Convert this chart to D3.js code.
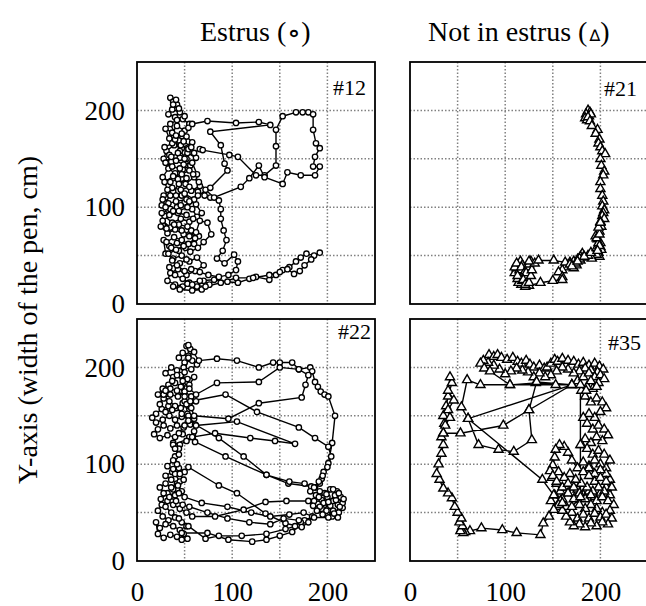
<!DOCTYPE html>
<html>
<head>
<meta charset="utf-8">
<script src="https://cdn.jsdelivr.net/npm/d3@7"></script>
<style>
body { margin: 0; background: #fff; }
svg { display: block; font-family: "Liberation Serif", "Times New Roman", serif; }
</style>
</head>
<body>
<svg width="646" height="606"></svg>
<script>
// axis ticks and grid positions (cm)
var ticks = [0, 100, 200];
var gridVals = [50, 100, 150, 200];

// tracked positions [x, y] in cm
var pig12 = [
[35,213],[38,209],[42,206],[37,201],[45,198],[40,193],[33,196],[48,191],[55,186],[50,179],[42,184],[37,177],[30,181],[34,171],[44,169],[52,173],[58,167],[47,161],[39,164],[31,158],[28,150],[36,147],[45,151],[53,156],[62,151],[56,143],[48,139],[40,135],[33,140],[27,131],[35,126],[43,129],[51,124],[60,131],[66,122],[57,117],[47,112],[38,116],[30,110],[26,102],[33,97],[42,100],[50,105],[58,98],[63,90],[55,85],[46,88],[37,84],[29,91],[25,80],[32,73],[40,77],[49,72],[57,76],[65,70],[60,62],[51,58],[42,63],[34,60],[28,66],[30,52],[38,47],[47,50],[55,44],[63,48],[70,40],[61,34],[52,30],[43,36],[35,32],[32,24],[40,20],[48,18],[55,22],[63,18],[70,24],[76,20],[68,15],[58,14],[45,15],[38,18],
[53,21],[66,24],[81,25],[95,23],[106,22],[118,26],[125,28],[139,25],[146,30],[153,35],[160,38],[167,44],[172,48],[178,52],[186,50],[192,53],[183,46],[176,40],[171,34],[165,31],[158,36],[150,33],[139,30],[122,27],[104,27],[88,22],[72,18],[58,20],
[48,26],[40,30],[34,38],[45,42],[52,46],[44,55],[36,58],[31,64],[39,69],[47,66],[54,62],[61,68],[53,80],[44,82],[35,79],[27,86],[34,92],[43,94],[52,92],[59,88],[68,94],[62,103],[52,108],[41,106],[33,104],[28,112],[37,120],[46,118],[55,121],[64,116],[71,112],
[77,110],[86,107],[88,98],[88,88],[91,76],[94,66],[90,55],[84,47],[92,42],[102,51],[106,44],[104,35],[96,30],[86,28],[75,30],[66,33],[57,36],
[50,34],[42,40],[37,45],[33,52],[41,56],[49,60],[56,54],[64,58],[70,64],[78,72],[74,84],[66,86],[62,74],[55,70],[47,76],[39,82],[31,78],[26,94],[35,98],[44,96],[53,100],[60,108],[50,114],[41,112],[32,118],[29,126],[38,132],[47,134],[55,138],[63,134],[58,146],[49,144],[41,148],[34,154],[29,162],[37,166],[46,164],[54,160],[60,156],[66,160],
[69,159],[97,154],[106,152],[125,133],[134,133],[146,143],[146,163],[146,180],[153,194],[167,198],[174,198],[180,198],[185,196],[185,180],[188,166],[192,161],[187,152],[185,142],[192,142],[187,133],[172,133],[158,136],[153,124],[134,131],[128,143],[118,130],[109,121],[81,110],
[72,118],[65,126],[59,134],[52,150],[45,158],[40,170],[47,176],[54,182],[58,186],
[74,189],[104,187],[128,188],[140,185],[77,178],[88,164],[92,145],[95,138],[77,120],[64,112],
[55,106],[46,102],[38,96],[30,100],[27,108],[35,112],[44,124],[52,130],[45,140],[37,142],[30,146],[36,152],[43,156],[50,150],[57,162],[49,168],[41,174],[35,186],[42,190],[50,194],[44,202],[38,206],[41,211]
];

var pig21 = [
[187,200],[189,198],[185,196],[188,194],[184,192],[186,190],[190,196],[187,193],[189,189],[191,184],[197,180],[195,176],[199,170],[198,166],[200,162],[202,158],[205,155],[200,150],[201,143],[204,137],[203,133],[200,126],[200,119],[202,112],[203,106],[202,101],[204,97],[203,94],[202,91],[204,88],[200,85],[201,80],[199,75],[195,70],[197,67],[200,63],[198,61],[200,59],[201,56],[198,53],[199,49],[196,51],[191,47],[187,50],[181,52],[179,49],[176,46],[172,44],[168,43],[165,40],[163,38],[160,35],[156,33],[160,28],[160,25],[150,24],[137,22],[125,19],[121,18],[117,20],[114,22],[113,26],[110,32],[112,37],[116,44],[118,40],[115,35],[119,30],[122,26],[118,24],[113,29],[110,38],[112,42],[117,38],[121,34],[124,38],[127,44],[125,41],[122,32],[119,25],[121,20],[125,22],[127,29],[128,35],[131,42],[125,44],[135,45],[151,45],[163,43],[168,41],[172,37],[175,40],[179,45],[182,48],[178,47],[174,42],[170,39],[176,44],[183,49],[190,53],[196,58],[198,63],[196,68],[199,72],[198,79],[200,84],[199,60],[197,55]
];

var pig22 = [
[52,222],[56,219],[60,216],[54,212],[48,215],[44,210],[50,205],[58,207],[63,203],[57,198],[49,200],[42,197],[36,200],[30,194],[38,190],[46,192],[53,188],[60,190],[55,182],[47,180],[40,184],[33,182],[27,178],[22,172],[28,168],[35,172],[43,170],[50,175],[57,170],[62,165],[55,160],[48,163],[41,158],[33,160],[26,157],[20,152],[16,148],[20,143],[27,146],[34,150],[40,146],[47,149],[53,152],[60,147],[56,141],[49,138],[42,140],[35,137],[28,140],[22,136],[18,131],[24,127],[32,130],[40,128],[48,131],[55,128],[60,134],[52,124],[45,120],[38,122],
[44,132],[50,140],[54,150],[50,165],[46,180],[50,195],[54,210],[54,223],[65,207],[84,209],[105,207],[128,200],[143,205],[150,205],[163,205],[170,198],[182,200],[184,196],[187,185],[190,180],[193,175],[197,172],[201,170],[208,150],[205,122],[201,101],[196,92],[194,85],[192,80],[183,77],[159,80],[136,89],[112,108],[86,127],[61,141],
[54,145],[47,152],[40,160],[34,165],[28,172],[35,178],[42,176],[50,170],[57,158],
[60,150],[96,147],[128,163],[173,169],[177,182],[180,192],[170,198],[150,200],[128,185],[84,184],[62,172],
[55,178],[48,186],[42,192],[37,186],[30,176],[24,162],[30,154],[37,156],[46,158],[52,162],[56,165],
[93,172],[126,154],[170,138],[187,127],[201,118],[204,108],[200,97],[195,88],[191,82],[187,76],[182,72],
[188,68],[194,63],[200,66],[206,62],[211,58],[216,55],[212,50],[206,52],[200,48],[194,54],[190,59],[196,60],[203,57],[209,63],[214,66],[210,72],[203,74],[197,70],[191,66],[186,62],[192,56],[199,52],[205,46],[211,45],[216,60],[208,68],[201,61],[195,48],[189,52],[185,57],
[180,62],[157,62],[135,61],[112,53],[82,46],[58,46],
[52,50],[45,54],[38,58],[32,62],[26,58],[22,52],[27,46],[33,42],[40,45],[47,40],[52,36],[45,32],[38,36],[30,38],[24,34],[20,40],[22,28],[28,24],[35,27],[42,25],[49,28],[53,23],[47,22],
[47,29],[74,29],[96,22],[121,20],[136,22],[150,26],[163,30],[171,37],[176,42],[172,40],[166,36],[156,33],[136,28],[110,26],[86,26],[72,23],[54,36],
[44,44],[36,50],[30,56],[25,64],[32,70],[40,68],[47,72],[42,80],[36,84],[30,88],[37,92],[44,96],[50,92],[54,97],
[86,78],[105,70],[135,49],[156,39],[173,35],[180,40],[184,46],
[175,50],[160,48],[140,46],[120,50],[95,56],[68,60],[50,66],
[44,70],[38,74],[45,82],[40,90],[42,100],[40,108],[44,116],[38,120],
[58,128],[82,132],[119,127],[145,124],[166,121],[105,144],[62,140],
[61,123],[93,108],[136,89],[160,82],[176,80],[186,76],
[192,72],[199,69],[206,74],[212,70],[217,64],[213,56],[207,49],[201,45],
[186,45],[170,42],[154,44],[140,38],[118,40],[95,44],[74,50],[55,56],
[48,58],[41,62],[34,66],[28,70],[24,76],[30,80],[36,76],[43,78],[49,84],[45,90],[38,95],[32,98],[38,104],[44,110],[40,116]
];

var pig35 = [
[83,213],[88,211],[92,213],[96,210],[102,208],[108,210],[113,206],[117,204],[122,207],[126,203],[130,200],[136,202],[141,199],[144,200],[148,204],[152,208],[155,206],[160,209],[166,207],[172,206],[177,203],[182,205],[188,202],[194,204],[199,201],[203,198],[197,195],[190,197],[184,199],[178,196],[172,194],[166,198],[160,200],[154,196],[148,192],[142,190],[136,194],[130,190],[124,195],[118,197],[112,199],[106,196],[100,193],[94,198],[88,202],[82,205],[77,207],[74,204],[78,199],[84,196],
[105,182],[132,184],[153,182],[170,182],[176,186],[182,190],[188,194],[194,190],[200,192],[204,188],[198,184],[192,178],[186,180],[180,176],[184,170],[190,164],[196,168],[202,164],[206,158],[200,154],[194,148],[188,152],[182,148],[186,142],[192,136],[198,140],[204,136],[208,130],[202,124],[196,128],[190,122],[184,126],[180,120],[186,116],[192,110],[198,114],[204,110],[210,104],[206,96],[200,100],[194,104],[188,98],[182,102],[176,96],
[170,104],[166,112],[162,118],[157,120],[153,115],[152,107],[150,99],[147,93],[149,86],[154,80],
[158,72],[164,76],[170,70],[176,74],[182,68],[188,72],[194,66],[200,70],[206,76],[210,84],[206,90],[200,94],[194,90],[188,96],[182,92],[188,88],[194,82],[200,86],[206,82],[212,76],[210,68],[204,72],[198,76],[192,72],[186,76],[180,80],[174,84],[168,90],[162,86],[156,92],[150,88],[154,82],[160,76],[166,80],[172,76],[178,70],[184,64],[190,68],[196,62],[202,66],[208,62],[214,58],[210,52],[202,50],[196,54],[190,58],[184,54],[178,58],[172,64],[166,70],[160,64],[154,56],[148,62],[152,68],[158,62],[164,56],[170,50],[176,44],[182,48],[188,44],[194,49],[200,45],[206,48],[212,44],[208,38],[202,40],[196,36],[190,39],[184,35],[178,38],[172,36],[168,40],[164,46],[160,52],[156,58],
[151,53],[146,46],[140,39],[137,27],[112,29],[97,32],[75,34],[63,31],[58,30],[54,33],[56,29],[53,31],
[55,36],[52,40],[54,44],[50,50],[47,56],[44,65],[40,70],[35,75],[31,84],[28,90],[30,100],[33,111],[35,120],[33,128],[35,132],[36,142],[35,150],[38,160],[40,170],[44,184],[42,190],[40,176],[46,166],[40,156],[42,148],[37,140],[35,132],[53,132],[98,140],[125,156],[170,182],
[133,185],[125,156],[128,125],[109,113],[93,115],[72,120],[61,147],[54,159],[60,187],[74,182],[105,182],[170,182],
[61,147],[139,84],[151,68],[160,60],[170,56],[179,66],[179,120],[179,182],[185,176],[190,186],[196,180]
];

var panelData = [pig12, pig21, pig22, pig35];
var panelIds = ["#12", "#21", "#22", "#35"];
var panelShape = ["circle", "triangle", "circle", "triangle"];

var colX = [137, 410], rowY = [62, 319];
var pw = 238, ph = 242;
// label offsets from panel top-right corner
var labelOff = [[-9, 33], [-11, 34], [-4, 20], [-7, 31]];

var svg = d3.select("svg");

var x = d3.scaleLinear().domain([0, 250]).range([0, pw]);
var y = d3.scaleLinear().domain([0, 250]).range([ph, 0]);
var line = d3.line().x(function(d) { return x(d[0]); }).y(function(d) { return y(d[1]); });
var tri = d3.symbol().type(d3.symbolTriangle).size(36);

panelData.forEach(function(data, i) {
    var c = i % 2, r = Math.floor(i / 2);
    var g = svg.append("g")
        .attr("transform", "translate(" + colX[c] + "," + rowY[r] + ")");

    g.selectAll(".gx").data(gridVals).enter().append("line")
        .attr("x1", function(d) { return x(d); }).attr("x2", function(d) { return x(d); })
        .attr("y1", 0).attr("y2", ph)
        .attr("stroke", "#808080").attr("stroke-width", 1.5).attr("stroke-dasharray", "1.5,2");
    g.selectAll(".gy").data(gridVals).enter().append("line")
        .attr("y1", function(d) { return y(d); }).attr("y2", function(d) { return y(d); })
        .attr("x1", 0).attr("x2", pw)
        .attr("stroke", "#808080").attr("stroke-width", 1.5).attr("stroke-dasharray", "1.5,2");

    g.append("path").datum(data)
        .attr("d", line)
        .attr("fill", "none").attr("stroke", "#000").attr("stroke-width", 1.4);

    if (panelShape[i] === "circle") {
        g.selectAll(".pt").data(data).enter().append("circle")
            .attr("cx", function(d) { return x(d[0]); })
            .attr("cy", function(d) { return y(d[1]); })
            .attr("r", 2.7)
            .attr("fill", "#fff").attr("stroke", "#000").attr("stroke-width", 1.35);
    } else {
        g.selectAll(".pt").data(data).enter().append("path")
            .attr("d", tri)
            .attr("transform", function(d) { return "translate(" + x(d[0]) + "," + y(d[1]) + ")"; })
            .attr("fill", "#fff").attr("stroke", "#000").attr("stroke-width", 1.4);
    }

    g.append("rect")
        .attr("width", pw).attr("height", ph)
        .attr("fill", "none").attr("stroke", "#000").attr("stroke-width", 1.8);

    g.append("text")
        .attr("x", pw + labelOff[i][0]).attr("y", labelOff[i][1])
        .attr("text-anchor", "end")
        .attr("font-size", 22)
        .text(panelIds[i]);

    if (c === 0) {
        var ay = g.append("g")
            .call(d3.axisLeft(y).tickValues(ticks).tickSize(0).tickPadding(12));
        ay.select(".domain").remove();
        ay.selectAll("text").attr("font-size", 27).attr("font-family", "Liberation Serif, serif").attr("fill", "#000");
    }
    if (r === 1) {
        var ax = g.append("g")
            .attr("transform", "translate(0," + ph + ")")
            .call(d3.axisBottom(x).tickValues(ticks).tickSize(0).tickPadding(21));
        ax.select(".domain").remove();
        ax.selectAll("text").attr("font-size", 27).attr("font-family", "Liberation Serif, serif").attr("fill", "#000");
    }
});

// column titles
var t1 = svg.append("text").attr("x", 200).attr("y", 41).attr("font-size", 28);
t1.append("tspan").text("Estrus (");
t1.append("tspan").attr("font-family", "DejaVu Sans").attr("font-weight", "bold").attr("font-size", 24).text("\u2218");
t1.append("tspan").text(")");

var t2 = svg.append("text").attr("x", 428).attr("y", 41).attr("font-size", 28);
t2.append("tspan").text("Not in estrus (");
t2.append("tspan").attr("font-family", "DejaVu Sans").attr("font-size", 16).attr("dx", 2).text("\u2206");
t2.append("tspan").text(")");

// y axis title
svg.append("text")
    .attr("transform", "translate(37,320) rotate(-90)")
    .attr("text-anchor", "middle")
    .attr("font-size", 28)
    .text("Y-axis (width of the pen, cm)");
</script>
</body>
</html>
